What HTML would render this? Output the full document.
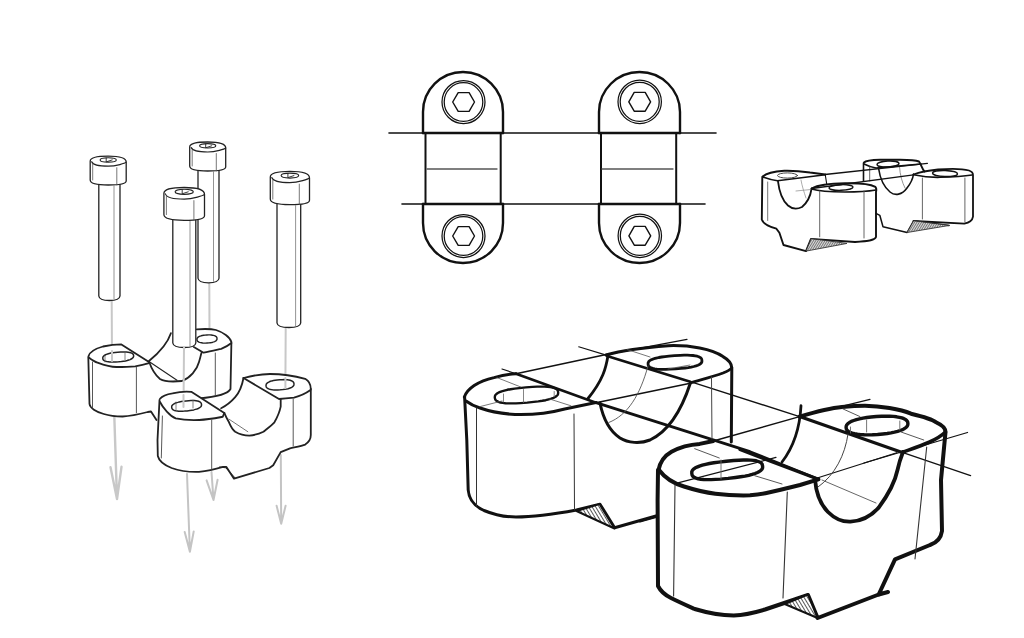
<!DOCTYPE html>
<html><head><meta charset="utf-8">
<style>
html,body{margin:0;padding:0;background:#fff;}
body{width:1024px;height:638px;overflow:hidden;font-family:"Liberation Sans",sans-serif;}
svg{display:block;}
#wrap{width:1024px;height:638px;}
</style></head>
<body><div id="wrap">
<svg width="1024" height="638" viewBox="0 0 1024 638" fill="none" stroke-linecap="round" stroke-linejoin="round">
<defs><pattern id="hatch" width="3" height="3" patternUnits="userSpaceOnUse" patternTransform="rotate(-31)"><rect width="3" height="3" fill="#fff"/><rect width="0.9" height="3" fill="#444"/></pattern>
<pattern id="hatch2" width="1.6" height="1.6" patternUnits="userSpaceOnUse" patternTransform="rotate(-25)"><rect width="1.6" height="1.6" fill="#ddd"/><rect width="0.6" height="1.6" fill="#555"/></pattern></defs>
<rect width="1024" height="638" fill="#fff"/>
<!-- TOP MIDDLE -->
<g id="topmid" stroke="#111">
 <path d="M389,133 L716,133" stroke-width="1.6"/>
 <path d="M402,204 L705,204" stroke-width="1.6"/>
 <path d="M423,133 L503,133 M599,133 L680,133 M423,204 L503,204 M599,204 L680,204" stroke-width="2.6"/>
 <path d="M423,133 L423,112 A40,40 0 0 1 503,112 L503,133" stroke-width="2.4"/>
 <path d="M599,133 L599,112 A40.5,40 0 0 1 680,112 L680,133" stroke-width="2.4"/>
 <path d="M423,204 L423,223 A40,40 0 0 0 503,223 L503,204" stroke-width="2.4"/>
 <path d="M599,204 L599,223 A40.5,40 0 0 0 680,223 L680,204" stroke-width="2.4"/>
 <path d="M425.5,133 L425.5,204 M500.7,133 L500.7,204 M601,133 L601,204 M676.2,133 L676.2,204" stroke-width="2"/>
 <path d="M427,169 L497,169 M602,169 L673,169" stroke="#555" stroke-width="1.3"/>
 <g stroke-width="1.25">
  <circle cx="463.5" cy="102" r="21.5"/><circle cx="463.5" cy="102" r="19.3"/>
  <circle cx="463.5" cy="236" r="21.5"/><circle cx="463.5" cy="236" r="19.3"/>
  <circle cx="639.7" cy="101.8" r="21.7"/><circle cx="639.7" cy="101.8" r="19.5"/>
  <circle cx="639.8" cy="235.8" r="21.7"/><circle cx="639.8" cy="235.8" r="19.5"/>
 </g>
 <g stroke-width="1.4">
  <path d="M474.5,102.0 L469.1,111.4 L458.2,111.4 L452.7,102.0 L458.2,92.6 L469.1,92.6 Z"/>
  <path d="M474.5,236.0 L469.1,245.4 L458.2,245.4 L452.7,236.0 L458.2,226.6 L469.1,226.6 Z"/>
  <path d="M650.6,101.8 L645.2,111.2 L634.2,111.2 L628.8,101.8 L634.2,92.4 L645.2,92.4 Z"/>
  <path d="M650.7,235.8 L645.2,245.2 L634.3,245.2 L628.9,235.8 L634.3,226.4 L645.2,226.4 Z"/>
 </g>
</g>

<!-- SMALL TOP RIGHT -->
<g id="small" stroke="#111">
 <!-- back piece -->
 <path d="M864,162.5 C866,160.5 872,160 880,159.8 L900,159.8 C910,160 916,160.5 919,161.5 C921,164 922,169 924.5,171.5" stroke-width="1.9"/>
 <path d="M864,164 C868,166 872,167.5 876,168 L921,164" stroke-width="1.6"/>
 <path d="M863.5,163 L863.5,181" stroke-width="1.6"/>
 <path d="M869.7,167 L869.7,181" stroke="#555" stroke-width="0.9"/>
 <ellipse cx="888" cy="164" rx="11" ry="3" stroke-width="1.4" transform="rotate(-3 888 164)"/>
 <path d="M878.6,168.5 C880,178 884,187 890,192 C895,196 902,195 907,188 C911,183 913,178 913.5,174" stroke-width="1.6"/>
 <path d="M899.5,166.5 C900,175 902,182 905,188" stroke="#777" stroke-width="0.8"/>
 <path d="M913.5,174.5 C920,172 928,170.5 938,169.5 C950,168.5 962,168.5 969,170.5 C972,171.5 973,173 973,175 L973,216.6 C972.5,220 970,222.5 964.3,223.6 L913.5,221" stroke-width="1.8"/>
 <path d="M913.5,174.8 C922,176.5 932,177.5 940,177.3 C955,177 966,176 972,175" stroke-width="1.6"/>
 <ellipse cx="945" cy="173.5" rx="12.5" ry="3" stroke-width="1.4" transform="rotate(2 945 173.5)"/>
 <path d="M922.4,178 L922.4,219 M964.9,178 L964.9,222" stroke="#555" stroke-width="0.9"/>
 <path d="M876,213.4 L879.8,215.3 L883,226.7 L907.1,232.5 L913.5,221 L949,225.5" stroke-width="1.5"/>
 <path d="M913.5,221 L907.1,232.5 L949,225.5 Z" fill="url(#hatch2)" stroke="#333" stroke-width="0.9"/>
 <!-- center lines -->
 <path d="M825,174.5 L927.4,163.3" stroke-width="1.3"/>
 <path d="M811.6,188.5 L913.5,174.8" stroke-width="1.3"/>
 <!-- front-left piece -->
 <path d="M762.8,176.5 C766,173.5 772,171.5 784.3,170.7 C792,170.5 800,171 810,172.5 L825.3,174.4" stroke-width="2"/>
 <path d="M762.8,177 C767,178.5 772,180 777.5,180.8 L825.3,174.8" stroke-width="1.5"/>
 <ellipse cx="787.5" cy="175.5" rx="10" ry="2.6" stroke="#444" stroke-width="1"/>
 <path d="M825.3,175 L826.8,184.7" stroke-width="1.1"/>
 <path d="M762.3,177 L761.8,219.5 C763,223.5 767,226 776.4,228.7 L779.4,232.8 L783.5,245 L806,251.1 L811,238.9 L855,242" stroke-width="1.9"/>
 <path d="M811,238.9 L806,251.1 L846.6,243.5 Z" fill="url(#hatch2)" stroke="#333" stroke-width="0.9"/>
 <path d="M767.7,182 L767.7,220.5" stroke="#666" stroke-width="0.9"/>
 <path d="M778,181.3 C779,190 782,200 788,205.5 C792,209 797,209.5 802,207 C808,202 810.5,196 811.6,188.5" stroke-width="1.8"/>
 <path d="M801,180 C802,186 804,192 806,198" stroke="#888" stroke-width="0.7"/>
 <path d="M796,191 L811,189.5" stroke="#888" stroke-width="0.7"/>
 <!-- front right lobe of front-left piece -->
 <path d="M811.6,188.5 C818,185 830,183.5 845,183.3 C860,183 870,184 875.4,186.8 C876.5,188 876.5,190 876,192 L876,237 C875,240 870,241 855,242" stroke-width="1.9"/>
 <path d="M811.6,189 C818,191 830,192 845,192 C860,192 870,191 876,190" stroke-width="1.6"/>
 <ellipse cx="841" cy="187.5" rx="12" ry="2.8" stroke-width="1.4" transform="rotate(-2 841 187.5)"/>
 <path d="M819.7,191 L819.7,236.8 M864,191 L864,238" stroke="#555" stroke-width="0.9"/>
</g>

<!-- BIG SKETCH -->
<g id="big" stroke="#111">
 <!-- back piece P1 -->
 <path d="M464.4,397 C467,389 478,381 494,377.6 C502,375.5 510,374 516,373.7" stroke-width="3"/>
 <path d="M516,373.7 L608.6,354.1" stroke-width="1.5"/>
 <path d="M578.7,346.8 L607,355.4" stroke-width="1.1"/>
 <path d="M606,355 C620,351 637,348 668.4,345.7 C690,345 712,349 723,356.6 C729,360 731.8,364 731.8,368 L731.3,442" stroke-width="3"/>
 <path d="M608.6,354.1 L687,339.4" stroke-width="1.2"/>
 <path d="M502,369 L516,373.7" stroke-width="1.2"/>
 <path d="M464.6,397 L466.8,440 L468.2,490 C469,500 474,506 484,510.5 C496,515.5 506,517 516,517 C535,517 555,514 576.5,510 L600,504.2 L614.6,527.7 L656,516" stroke-width="3"/>
 <path d="M576.5,511 L599.5,504.1 L614.5,528.5 Z" fill="url(#hatch)" stroke="#111" stroke-width="2"/>
 <path d="M466,401 C470,404 475,406.5 480,408 C490,411.5 502,413.7 515,414.5 C533,415 550,413 564.7,409 L596,402.5" stroke-width="3"/>
 <path d="M516,373.7 L596,402.7" stroke-width="2.6"/>
 <path d="M596,402.7 L677.8,428.7 L750,451.7 L818.4,479.3" stroke-width="2.8"/>
 <path d="M607,356 L690.3,381.7" stroke-width="2.6"/>
 <path d="M690.3,381.7 L799.6,416.6" stroke-width="1.4"/>
 <path d="M690.3,383 C700,380 712,377 723,373 C728,371 731,369 731.8,367.6" stroke-width="2.8"/>
 <path d="M596,402.7 L690.3,383.3" stroke-width="1.4"/>
 <path d="M558.2,392.2 L558.1,393.8 L557.6,395.0 L556.6,396.0 L555.2,397.0 L553.5,397.8 L551.3,398.7 L548.7,399.4 L545.7,400.2 L542.3,400.8 L538.3,401.4 L533.8,401.9 L527.2,402.6 L520.5,403.1 L515.9,403.4 L512.0,403.4 L508.5,403.4 L505.4,403.2 L502.7,402.9 L500.4,402.5 L498.5,401.9 L497.0,401.2 L495.9,400.4 L495.2,399.3 L494.8,397.8 L494.9,396.2 L495.4,395.0 L496.4,394.0 L497.8,393.0 L499.5,392.2 L501.7,391.3 L504.3,390.6 L507.3,389.8 L510.7,389.2 L514.7,388.6 L519.2,388.1 L525.8,387.4 L532.5,386.9 L537.1,386.6 L541.0,386.6 L544.5,386.6 L547.6,386.8 L550.3,387.1 L552.6,387.5 L554.5,388.1 L556.0,388.8 L557.1,389.6 L557.8,390.7 Z" stroke-width="2.4" />
 <path d="M701.9,360.4 L701.9,361.8 L701.4,362.8 L700.6,363.7 L699.4,364.5 L697.9,365.2 L696.0,365.9 L693.8,366.5 L691.2,367.1 L688.3,367.6 L685.0,368.0 L681.1,368.4 L675.5,368.9 L669.8,369.2 L665.9,369.4 L662.6,369.4 L659.6,369.3 L657.0,369.1 L654.7,368.8 L652.8,368.4 L651.2,367.8 L649.9,367.2 L648.9,366.5 L648.3,365.5 L648.1,364.2 L648.1,362.8 L648.6,361.8 L649.4,360.9 L650.6,360.1 L652.1,359.4 L654.0,358.7 L656.2,358.1 L658.8,357.5 L661.7,357.0 L665.0,356.6 L668.9,356.2 L674.5,355.7 L680.2,355.4 L684.1,355.2 L687.4,355.2 L690.4,355.3 L693.0,355.5 L695.3,355.8 L697.2,356.2 L698.8,356.8 L700.1,357.4 L701.1,358.1 L701.7,359.1 Z" stroke-width="2.8" />
 <path d="M608,355.5 C606,368 603,380 588,398.5" stroke-width="2.8"/>
 <path d="M600,403 C603,418 608,430 620,438 C628,443 640,444 650,440 C665,433 680,415 690.3,383.3" stroke-width="3"/>
 <path d="M648,366 C640,395 628,415 608.8,422.5" stroke="#555" stroke-width="0.9"/>
 <path d="M476.5,408 L476.5,506 M574,414 L574.5,510" stroke="#333" stroke-width="1"/>
 <path d="M711.5,377 L712,440.8" stroke="#444" stroke-width="1"/>
 <path d="M497,377.6 L520.8,387 M480,406.6 L502,401 M549,398.8 L571,405.8 M627,349.5 L650,357 M668,369 L690,365" stroke="#555" stroke-width="0.8"/>
 <path d="M503.5,394 L503.5,402 M523.5,389.5 L523.5,402.5 M554.2,391.5 L554.2,396.5" stroke="#666" stroke-width="0.8"/>
 <!-- front piece P2 -->
 <path d="M658.5,470 C660,462 664,456 671.5,451.7 C680,447 690,444.5 699.7,443.9 L713.4,441" stroke-width="4"/>
 <path d="M713.4,441 L799.6,416.6" stroke-width="1.4"/>
 <path d="M799.6,416.6 C815,412 830,408 842,407 C852,406 860,405.7 865,405.7 C880,406 900,409 911,413.7 C925,417 932,419 936,422.3 C942,425 945.5,428.5 945.5,432 L941,480 L942,531 C941,538 936,543 930,545 L895,559.3 L878.7,594.5 L888,592" stroke-width="4"/>
 <path d="M799.6,416.6 L870,399.4" stroke-width="1.2"/>
 <path d="M658,470 L657.6,500 L658,586 C661,592 666,595.5 671,598 C680,602.5 688,606 694.7,609 C708,613 720,615.3 733.75,615.5 C745,615 755,612.5 765,609.5 L808,595 L817.6,618 L878.7,594.5" stroke-width="4"/>
 <path d="M784.7,604 L808,594.5 L817.6,618 Z" fill="url(#hatch)" stroke="#111" stroke-width="2"/>
 <path d="M659,470 C665,478 672,483 684,486.5 C695,490 705,492.5 715.4,493.8 C730,495.5 742,495.5 750,495.3 C757,494.8 762,494 765.4,493.3 C780,490 792,487 800,485 L818.4,479.3" stroke-width="4"/>
 <path d="M740,449.6 L818.4,479.3" stroke-width="3.2"/>
 <path d="M799.6,416.6 L903,452.7" stroke-width="3.2"/>
 <path d="M903,452.7 L970.6,475.6" stroke-width="1.3"/>
 <path d="M903,452 C920,446 936,441 945.5,432" stroke-width="3.6"/>
 <path d="M864,463 L967.5,432.5" stroke-width="1.3"/>
 <path d="M818,477.8 L896.7,452.7" stroke-width="1.2"/>
 <path d="M676,483.3 L776,457.4" stroke-width="1.2"/>
 <path d="M815,479.4 C816,492 819,503 828,512 C835,519 843,522 850.5,521.7 C862,521 872,515 878.7,507.6 C888,495 895,482 897.5,470 C899,463 901,457 903,452" stroke-width="3.8"/>
 <path d="M801,405.7 C800,425 795,445 782,462" stroke-width="2.8"/>
 <path d="M848,434 C845,455 835,475 818,487" stroke="#444" stroke-width="1"/>
 <path d="M822,480 L876,503" stroke="#555" stroke-width="0.9"/>
 <path d="M762.6,466.1 L762.6,467.9 L762.0,469.2 L760.9,470.4 L759.4,471.5 L757.4,472.5 L755.0,473.5 L752.1,474.4 L748.8,475.3 L745.0,476.1 L740.6,476.8 L735.5,477.5 L728.1,478.4 L720.7,479.1 L715.6,479.4 L711.1,479.6 L707.2,479.6 L703.8,479.5 L700.8,479.2 L698.2,478.8 L696.0,478.1 L694.3,477.4 L693.0,476.4 L692.2,475.3 L691.8,473.5 L691.8,471.7 L692.4,470.4 L693.5,469.2 L695.0,468.1 L697.0,467.1 L699.4,466.1 L702.3,465.2 L705.6,464.3 L709.4,463.5 L713.8,462.8 L718.9,462.1 L726.3,461.2 L733.7,460.5 L738.8,460.2 L743.3,460.0 L747.2,460.0 L750.6,460.1 L753.6,460.4 L756.2,460.8 L758.4,461.5 L760.1,462.2 L761.4,463.2 L762.2,464.3 Z" stroke-width="3.4" />
 <path d="M907.9,423.3 L907.8,424.9 L907.2,426.2 L906.1,427.4 L904.6,428.5 L902.7,429.6 L900.3,430.5 L897.6,431.4 L894.5,432.2 L891.0,432.9 L887.2,433.5 L882.9,434.0 L877.6,434.5 L872.4,434.8 L868.1,434.9 L864.2,434.8 L860.6,434.6 L857.4,434.2 L854.6,433.7 L852.1,433.1 L850.1,432.3 L848.4,431.4 L847.2,430.4 L846.4,429.2 L846.1,427.7 L846.2,426.1 L846.8,424.8 L847.9,423.6 L849.4,422.5 L851.3,421.4 L853.7,420.5 L856.4,419.6 L859.5,418.8 L863.0,418.1 L866.8,417.5 L871.1,417.0 L876.4,416.5 L881.6,416.2 L885.9,416.1 L889.8,416.2 L893.4,416.4 L896.6,416.8 L899.4,417.3 L901.9,417.9 L903.9,418.7 L905.6,419.6 L906.8,420.6 L907.6,421.8 Z" stroke-width="3.4" />
 <path d="M675,485 L673.6,596 M787.3,492 L783,598 M926.7,447 L915,559" stroke="#333" stroke-width="1.1"/>
 <path d="M721,460 L721,479 M866.6,420 L866.6,432 M850.5,427 L850.5,433 M899.8,421 L899.8,430" stroke="#666" stroke-width="0.9"/>
 <path d="M842.7,408.8 L860,416.6 M901,432 L923.75,440 M694.7,448.7 L719.3,458 M754.7,475.7 L782,484" stroke="#444" stroke-width="0.9"/>
 <path d="M640,521.7 L657,517" stroke-width="1.8"/>
</g>

<!-- LEFT SKETCH -->
<g id="left" stroke="#222">
 <!-- gray arrow lines -->
 <path d="M111.7,301 L112,360" stroke="#c8c8c8" stroke-width="2"/>
 <path d="M114.3,416.0 L117.0,499.0 M110.5,467.2 L117.0,499.0 L121.5,466.8" stroke="#c8c8c8" stroke-width="2.4"/>
 <path d="M187.0,474.0 L189.9,551.7 M184.7,531.9 L189.9,551.7 L193.7,531.5" stroke="#c4c4c4" stroke-width="2"/>
 <path d="M211.5,472.0 L213.5,500.0 M206.6,480.4 L213.5,500.0 L217.6,479.7" stroke="#c4c4c4" stroke-width="2"/>
 <path d="M280.8,455.0 L281.2,523.8 M276.6,505.8 L281.2,523.8 L285.6,505.8" stroke="#c4c4c4" stroke-width="2"/>
 <path d="M209.3,283.5 L209.5,339" stroke="#c8c8c8" stroke-width="2"/>
 <path d="M285.7,328 L285.4,385" stroke="#c8c8c8" stroke-width="2"/>
 <path d="M98.8,183.0 L98.8,296.0 Q99.3,300.5 109.4,300.5 Q119.5,300.5 120.0,296.0 L120.0,183.0" fill="#fff" stroke="#222" stroke-width="1.3"/>
<path d="M114.0,186.0 L114.0,299.0" stroke="#888" stroke-width="0.9"/>
<path d="M90.2,161.2 C90.2,157.2 99.2,156.2 108.2,156.2 C118.1,156.2 126.2,157.7 126.2,162.2 L126.2,181.0 C126.2,184.0 117.2,185.0 108.2,185.0 C98.3,185.0 90.2,183.5 90.2,180.0 Z" fill="#fff" stroke="#222" stroke-width="1.3"/>
<path d="M91.7,161.7 C93.2,165.7 101.0,166.2 108.2,166.2 C116.3,166.2 125.2,163.2 126.2,162.2" stroke="#222" stroke-width="1.1700000000000002"/>
<path d="M92.7,164.2 L92.7,180.0 M116.8,167.7 L116.8,185.0" stroke="#555" stroke-width="0.8"/>
<ellipse cx="108.2" cy="159.9" rx="8.1" ry="2.2" stroke="#222" stroke-width="1.1"/>
<path d="M106.2,157.9 L106.2,161.9 L112.2,159.9" stroke="#222" stroke-width="0.9"/>
 <path d="M198.0,169.0 L198.0,278.3 Q198.5,282.8 208.5,282.8 Q218.5,282.8 219.0,278.3 L219.0,169.0" fill="#fff" stroke="#222" stroke-width="1.3"/>
<path d="M213.5,172.0 L213.5,281.3" stroke="#888" stroke-width="0.9"/>
<path d="M189.7,147.0 C189.7,143.0 198.7,142.0 207.7,142.0 C217.6,142.0 225.7,143.5 225.7,148.0 L225.7,167.0 C225.7,170.0 216.7,171.0 207.7,171.0 C197.8,171.0 189.7,169.5 189.7,166.0 Z" fill="#fff" stroke="#222" stroke-width="1.3"/>
<path d="M191.2,147.5 C192.7,151.5 200.5,152.0 207.7,152.0 C215.8,152.0 224.7,149.0 225.7,148.0" stroke="#222" stroke-width="1.1700000000000002"/>
<path d="M192.2,150.0 L192.2,166.0 M216.3,153.5 L216.3,171.0" stroke="#555" stroke-width="0.8"/>
<ellipse cx="207.7" cy="145.8" rx="8.1" ry="2.2" stroke="#222" stroke-width="1.1"/>
<path d="M205.7,143.8 L205.7,147.8 L211.7,145.8" stroke="#222" stroke-width="0.9"/>
 <path d="M277.0,202.7 L277.0,323.0 Q277.5,327.5 288.9,327.5 Q300.2,327.5 300.7,323.0 L300.7,202.7" fill="#fff" stroke="#222" stroke-width="1.3"/>
<path d="M295.6,205.7 L295.6,326.0" stroke="#888" stroke-width="0.9"/>
<path d="M270.3,177.0 C270.3,172.4 280.1,171.4 289.9,171.4 C300.7,171.4 309.5,172.9 309.5,178.0 L309.5,200.2 C309.5,203.7 299.7,204.7 289.9,204.7 C279.1,204.7 270.3,203.2 270.3,199.1 Z" fill="#fff" stroke="#222" stroke-width="1.3"/>
<path d="M271.8,177.5 C273.3,182.1 282.1,182.6 289.9,182.6 C298.7,182.6 308.5,179.0 309.5,178.0" stroke="#222" stroke-width="1.1700000000000002"/>
<path d="M272.8,180.0 L272.8,199.1 M299.3,184.1 L299.3,204.7" stroke="#555" stroke-width="0.8"/>
<ellipse cx="289.9" cy="175.6" rx="8.8" ry="2.5" stroke="#222" stroke-width="1.1"/>
<path d="M287.9,173.6 L287.9,177.6 L293.9,175.6" stroke="#222" stroke-width="0.9"/>
 <!-- B1 back block -->
 <path d="M88.6,356 C90,351 96,348.5 103,346.5 C110,345 116,344.4 121.4,344.4 L149,361.5 L170.9,333.2 L196.8,329.3 C205,328.8 211.4,328.8 216,330 C223.1,332.2 230,337.1 231.4,342 L230.5,389 C228,394 215,397 199,398.4 L160,412 L147.7,412 C140,414 130,416.5 122.6,416.5 C110,416 100,413 91.9,408.3 Z" fill="#fff" stroke="none"/>
 <path d="M88.6,356 C90,351 96,348.5 103,346.5 C110,345 116,344.4 121.4,344.4 L149,362" stroke-width="1.8"/>
 <path d="M88.3,357 L89.5,404 C90,408 96,412 103.8,414 C110,416 116,416.5 122.6,416.5 C132,416 140,414 147.7,412 L151,411.5 L156.5,420" stroke-width="1.8"/>
 <path d="M88.8,357.5 C92,360 95,362 97.5,362.6 C104,365 110,367 116.3,367 C123,367 130,366.8 135.2,366.3 C141,365.5 145,364.5 149,363.2" stroke-width="1.8"/>
 <path d="M133.6,355.6 L133.6,356.5 L133.3,357.2 L132.8,357.9 L132.1,358.5 L131.2,359.0 L130.1,359.6 L128.8,360.0 L127.2,360.5 L125.5,360.9 L123.6,361.2 L121.4,361.5 L118.6,361.8 L115.8,362.0 L113.6,362.1 L111.7,362.1 L109.9,362.0 L108.3,361.8 L106.9,361.6 L105.7,361.3 L104.7,360.9 L103.9,360.4 L103.3,359.9 L102.9,359.2 L102.8,358.4 L102.8,357.5 L103.1,356.8 L103.6,356.1 L104.3,355.5 L105.2,355.0 L106.3,354.4 L107.6,354.0 L109.2,353.5 L110.9,353.1 L112.8,352.8 L115.0,352.5 L117.8,352.2 L120.6,352.0 L122.8,351.9 L124.7,351.9 L126.5,352.0 L128.1,352.2 L129.5,352.4 L130.7,352.7 L131.7,353.1 L132.5,353.6 L133.1,354.1 L133.5,354.8 Z" stroke-width="1.5" />
 <path d="M112,351 L112,361" stroke="#c8c8c8" stroke-width="2"/>
 <path d="M105,356 L105,362 M125,353 L125,360" stroke="#666" stroke-width="0.8"/>
 <path d="M92.5,362 L92.5,408 M136.4,367 L136.4,412.7" stroke="#444" stroke-width="0.9"/>
 <path d="M149,361.5 C152,370 155,375 160,379 C165,382 172,382 181.9,381 C190,378 197,370 199,362 C200.5,357 201,354 201.6,352.7" stroke-width="1.8"/>
 <path d="M170.9,333.2 C168,342 160,352 149,361" stroke-width="1.8"/>
 <path d="M149,361.5 L177,380.3" stroke-width="1.1"/>
 <path d="M196.8,329.3 C205,328.8 211.4,328.8 216,330 C223.1,332.2 230,337.1 231.4,342 L230.5,389 C228,394 215,397 199,398.4" stroke-width="1.8"/>
 <path d="M193.8,346.9 L203.6,352.7 C210,351.5 216,350 221.2,348.8 C226,347 229,345 231.4,343" stroke-width="1.8"/>
 <path d="M217.0,338.5 L217.0,339.2 L216.8,339.8 L216.4,340.3 L216.0,340.8 L215.4,341.2 L214.6,341.6 L213.8,341.9 L212.8,342.2 L211.7,342.5 L210.4,342.7 L209.0,342.9 L207.2,343.0 L205.4,343.1 L204.0,343.1 L202.7,343.0 L201.6,342.8 L200.6,342.6 L199.7,342.4 L198.9,342.1 L198.3,341.7 L197.7,341.3 L197.4,340.8 L197.1,340.3 L197.0,339.5 L197.0,338.8 L197.2,338.2 L197.6,337.7 L198.0,337.2 L198.6,336.8 L199.4,336.4 L200.2,336.1 L201.2,335.8 L202.3,335.5 L203.6,335.3 L205.0,335.1 L206.8,335.0 L208.6,334.9 L210.0,334.9 L211.3,335.0 L212.4,335.2 L213.4,335.4 L214.3,335.6 L215.1,335.9 L215.7,336.3 L216.3,336.7 L216.6,337.2 L216.9,337.7 Z" stroke-width="1.4" />
 <path d="M215.3,353 L215.3,395" stroke="#444" stroke-width="0.9"/>
 <!-- bolt 3 in front of B1 -->
 <path d="M172.8,218.4 L172.8,343.0 Q173.3,347.5 184.3,347.5 Q195.3,347.5 195.8,343.0 L195.8,218.4" fill="#fff" stroke="#222" stroke-width="1.3"/>
<path d="M190.0,221.4 L190.0,346.0" stroke="#888" stroke-width="0.9"/>
<path d="M163.9,193.3 C163.9,188.5 174.0,187.5 184.2,187.5 C195.4,187.5 204.5,189.0 204.5,194.3 L204.5,215.8 C204.5,219.4 194.3,220.4 184.2,220.4 C173.0,220.4 163.9,218.9 163.9,214.6 Z" fill="#fff" stroke="#222" stroke-width="1.3"/>
<path d="M165.4,193.8 C166.9,198.6 176.1,199.1 184.2,199.1 C193.3,199.1 203.5,195.3 204.5,194.3" stroke="#222" stroke-width="1.1700000000000002"/>
<path d="M166.4,196.3 L166.4,214.6 M193.9,200.6 L193.9,220.4" stroke="#555" stroke-width="0.8"/>
<ellipse cx="184.2" cy="191.8" rx="9.1" ry="2.6" stroke="#222" stroke-width="1.1"/>
<path d="M182.2,189.8 L182.2,193.8 L188.2,191.8" stroke="#222" stroke-width="0.9"/>
 <path d="M184,347 L183.5,407" stroke="#c8c8c8" stroke-width="2"/>
 <!-- B2 front block -->
 <path d="M160,398.8 C163,395 168,394 172.5,393.3 C178,392 184,391 191.3,391.8 L224.3,412.9 L243.5,378 C255,375 262,374 270,374 C282,374 295,376 305.2,378.8 C309,381 310.8,385 310.8,389 L310.8,435 C309,441 306,444 301,445 L282.3,452 L276,455.2 L269.7,467.8 L235.2,478 L225.8,467.8 L219.6,467 C210,469 204,470.9 199,470.9 C185,471 170,467 160,461.5 Z" fill="#fff" stroke="none"/>
 <path d="M160,398.8 C163,395 168,394 172.5,393.3 C178,392 184,391 191.3,391.8 L224.3,412.9" stroke-width="1.8"/>
 <path d="M159.5,400 L157.5,440 L157.8,456 C159,461 164,465 171.6,468 C180,471 190,472.2 199,471.9 C210,471 218,468.5 223.2,466.9 L226.4,466.9 L234,478.7 L269.4,468 L273.2,465.3 L280.7,452.1 L290,448.3 C296,447 302,446 305.2,444.6 C309,442 310.8,438 310.8,435 L310.8,389" stroke-width="1.8"/>
 <path d="M160,402 C163,408 170,416 175.7,418.4 C183,420 191,420.3 199.2,420 C208,419.5 216,418 222.7,416.8 L224.3,413" stroke-width="1.8"/>
 <path d="M201.5,404.3 L201.5,405.3 L201.3,406.0 L200.8,406.7 L200.1,407.3 L199.2,407.9 L198.2,408.5 L196.9,409.0 L195.4,409.4 L193.8,409.9 L191.9,410.2 L189.9,410.5 L187.1,410.9 L184.4,411.1 L182.3,411.2 L180.4,411.3 L178.7,411.2 L177.2,411.0 L175.8,410.8 L174.6,410.5 L173.7,410.1 L172.9,409.6 L172.3,409.0 L171.9,408.4 L171.7,407.5 L171.7,406.5 L171.9,405.8 L172.4,405.1 L173.1,404.5 L174.0,403.9 L175.0,403.3 L176.3,402.8 L177.8,402.4 L179.4,401.9 L181.3,401.6 L183.3,401.3 L186.1,400.9 L188.8,400.7 L190.9,400.6 L192.8,400.5 L194.5,400.6 L196.0,400.8 L197.4,401.0 L198.6,401.3 L199.5,401.7 L200.3,402.2 L200.9,402.8 L201.3,403.4 Z" stroke-width="1.5" />
 <path d="M183.5,395 L183.5,407" stroke="#c8c8c8" stroke-width="2"/>
 <path d="M176,402 L176,410 M193,400 L193,408" stroke="#666" stroke-width="0.8"/>
 <path d="M162.4,416 L161.3,458 M211.7,420 L211.7,470" stroke="#444" stroke-width="0.9"/>
 <path d="M224.3,412.9 C226,417 227,419 229,422.3 C231,427 233,430 235.2,431.7 C240,434.5 245,435.6 249.3,435.6 C256,435 260,433.5 263.4,431.7 C268,428 272,425 274.4,422.3 C278,416 280,410 280.7,406.6 L280.7,398.8" stroke-width="1.8"/>
 <path d="M243.5,378 C242,386 238,394 235.2,397.2 C231,402 226,406 221.1,408.2" stroke-width="1.8"/>
 <path d="M229,419.2 L247.8,431.7" stroke="#666" stroke-width="0.9"/>
 <path d="M243.5,378 C255,375 262,374 270,374 C282,374 295,376 305.2,378.8 C309,381 310.8,385 310.8,389" stroke-width="1.8"/>
 <path d="M243.5,378 L279,399 C285,398.5 290,398 294,397.6 C300,396 305,394 310.5,390" stroke-width="1.8"/>
 <path d="M294.0,383.8 L293.9,384.7 L293.7,385.5 L293.2,386.1 L292.6,386.7 L291.7,387.3 L290.7,387.8 L289.5,388.3 L288.1,388.7 L286.6,389.0 L284.9,389.3 L282.9,389.6 L280.3,389.8 L277.8,389.9 L275.8,390.0 L274.1,389.9 L272.5,389.8 L271.1,389.6 L269.8,389.3 L268.7,388.9 L267.8,388.5 L267.1,388.0 L266.5,387.4 L266.2,386.7 L266.0,385.8 L266.1,384.9 L266.3,384.1 L266.8,383.5 L267.4,382.9 L268.3,382.3 L269.3,381.8 L270.5,381.3 L271.9,380.9 L273.4,380.6 L275.1,380.3 L277.1,380.0 L279.7,379.8 L282.2,379.7 L284.2,379.6 L285.9,379.7 L287.5,379.8 L288.9,380.0 L290.2,380.3 L291.3,380.7 L292.2,381.1 L292.9,381.6 L293.5,382.2 L293.8,382.9 Z" stroke-width="1.5" />
 <path d="M285.4,378 L285.4,388" stroke="#c8c8c8" stroke-width="2"/>
 <path d="M293.2,399 L293.2,446" stroke="#444" stroke-width="0.9"/>
 <path d="M219.6,467 L225.8,467.8 L235.2,478" stroke-width="1"/>
</g>
</svg></div>
</body></html>
